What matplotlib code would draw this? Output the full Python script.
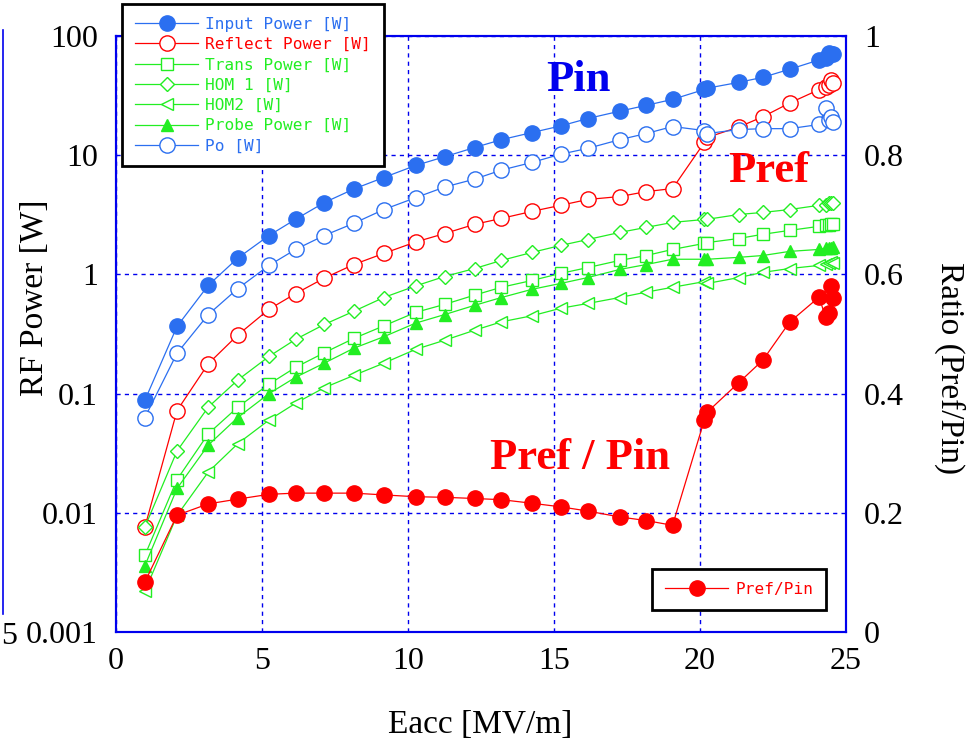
import matplotlib
matplotlib.use("Agg")
import matplotlib.pyplot as plt
from matplotlib.lines import Line2D
import numpy as np

# ---------------- data ----------------
eacc = [0.99, 2.09, 3.16, 4.17, 5.24, 6.15, 7.13, 8.14, 9.17, 10.26, 11.25, 12.28, 13.2, 14.25,
        15.23, 16.15, 17.25, 18.16, 19.06, 20.15, 20.25, 21.32, 22.15, 23.07, 24.08, 24.3,
        24.42, 24.5, 24.56]

input_power = [0.088, 0.366, 0.81, 1.37, 2.12, 2.9, 4.0, 5.2, 6.5, 8.2, 9.7, 11.6, 13.5, 15.5,
               17.6, 20.3, 23.4, 26.2, 29.4, 35.6, 36.5, 40.8, 45, 52.6, 63, 66, 72, 70, 71]
reflect_power = [0.0076, 0.072, 0.178, 0.31, 0.51, 0.69, 0.93, 1.21, 1.5, 1.87, 2.2, 2.63, 2.95,
                 3.38, 3.8, 4.25, 4.5, 4.95, 5.25, 12.8, 14.1, 17.2, 21, 27.4, 35.5, 37, 38.5,
                 42.5, 40]
trans_power = [0.0044, 0.019, 0.046, 0.077, 0.12, 0.166, 0.22, 0.29, 0.37, 0.48, 0.56, 0.67,
               0.78, 0.89, 1.02, 1.14, 1.31, 1.44, 1.62, 1.82, 1.85, 2.0, 2.17, 2.34, 2.53, 2.6,
               2.62, 2.65, 2.65]
hom1 = [0.0076, 0.033, 0.077, 0.13, 0.205, 0.285, 0.38, 0.49, 0.64, 0.8, 0.96, 1.12, 1.31, 1.53,
        1.75, 1.96, 2.25, 2.48, 2.73, 2.89, 2.9, 3.18, 3.31, 3.5, 3.8, 3.85, 3.95, 4.0, 3.95]
hom2 = [0.0022, 0.0095, 0.022, 0.038, 0.06, 0.083, 0.112, 0.142, 0.18, 0.235, 0.28, 0.34, 0.4,
        0.45, 0.52, 0.57, 0.64, 0.71, 0.78, 0.87, 0.84, 0.94, 1.04, 1.12, 1.19, 1.22, 1.25,
        1.27, 1.25]
probe_power = [0.0036, 0.016, 0.037, 0.063, 0.1, 0.137, 0.18, 0.24, 0.30, 0.39, 0.46, 0.55, 0.64,
               0.75, 0.84, 0.94, 1.1, 1.21, 1.34, 1.34, 1.34, 1.39, 1.44, 1.56, 1.62, 1.66, 1.68,
               1.66, 1.7]
po = [0.063, 0.218, 0.46, 0.76, 1.19, 1.62, 2.12, 2.68, 3.5, 4.4, 5.4, 6.3, 7.5, 8.7, 10.2, 11.4,
      13.5, 15.2, 17.4, 16.1, 15.2, 16.4, 16.7, 16.7, 18.1, 25, 19.6, 20.8, 19]
ratio = [0.084, 0.196, 0.215, 0.223, 0.231, 0.233, 0.233, 0.233, 0.23, 0.227, 0.226, 0.224,
         0.222, 0.216, 0.21, 0.203, 0.193, 0.187, 0.179, 0.356, 0.369, 0.418, 0.456, 0.52,
         0.562, 0.528, 0.535, 0.58, 0.56]

labels = ["Input Power [W]", "Reflect Power [W]", "Trans Power [W]", "HOM 1 [W]", "HOM2 [W]",
          "Probe Power [W]", "Po [W]"]
ratio_label = "Pref/Pin"
left_ticks = [0.001, 0.01, 0.1, 1, 10, 100]
left_ticklabels = ["0.001", "0.01", "0.1", "1", "10", "100"]
right_ticks = [0, 0.2, 0.4, 0.6, 0.8, 1]
right_ticklabels = ["0", "0.2", "0.4", "0.6", "0.8", "1"]
x_ticks = [0, 5, 10, 15, 20, 25]

# ---------------- style ----------------
BLUE = "#2b6ff0"
RED = "#ff0000"
GREEN = "#22ee22"
AXBLUE = "#0000ee"
serif = ["Liberation Serif", "DejaVu Serif"]
mono = {"family": "DejaVu Sans Mono", "size": 11.6}

fig = plt.figure(figsize=(9.67, 7.46), dpi=100)
ax = fig.add_axes([116 / 967, 1 - 632 / 746, 730 / 967, 596 / 746])

ms_big = 11
ms_small = 8
lw = 0.9

series = [
    (input_power, dict(color=BLUE, marker="o", ms=ms_big, mfc=BLUE, mec=BLUE)),
    (reflect_power, dict(color=RED, marker="o", ms=ms_big, mfc="white", mec=RED)),
    (trans_power, dict(color=GREEN, marker="s", ms=ms_small + 1, mfc="white", mec=GREEN)),
    (hom1, dict(color=GREEN, marker="D", ms=ms_small - 1, mfc="white", mec=GREEN)),
    (hom2, dict(color=GREEN, marker="<", ms=ms_small + 1, mfc="white", mec=GREEN)),
    (probe_power, dict(color=GREEN, marker="^", ms=ms_small + 1, mfc=GREEN, mec=GREEN)),
    (po, dict(color=BLUE, marker="o", ms=ms_big, mfc="white", mec=BLUE)),
]
handles = []
for vals, kw in series:
    h, = ax.plot(eacc, vals, lw=lw, mew=1.0, **kw)
    handles.append(h)

ax.set_yscale("log")
ax.set_xlim(0, 25)
ax.set_ylim(0.001, 100)
ax.set_xticks(x_ticks)
ax.set_xticklabels([str(t) for t in x_ticks])
ax.set_yticks(left_ticks)
ax.set_yticklabels(left_ticklabels)
ax.yaxis.set_minor_locator(matplotlib.ticker.NullLocator())
ax.grid(True, which="major", color=AXBLUE, ls=(0, (3, 3)), lw=1.0)
ax.tick_params(axis="y", which="both", direction="in", length=0, labelsize=23, pad=13)
ax.tick_params(axis="x", which="both", direction="in", length=0, labelsize=23, pad=11)
for lab in ax.get_xticklabels() + ax.get_yticklabels():
    lab.set_fontfamily(serif)
for sp in ax.spines.values():
    sp.set_color(AXBLUE)
    sp.set_linewidth(1.5)

ax.set_xlabel("Eacc [MV/m]", fontsize=24, family=serif, va="center")
ax.xaxis.set_label_coords(0.499, -0.156)
ax.set_ylabel("RF Power [W]", fontsize=24, family=serif, va="center")
ax.yaxis.set_label_coords(-0.111, 0.56)

ax2 = ax.twinx()
h2, = ax2.plot(eacc, ratio, color=RED, lw=lw, marker="o", ms=ms_big, mfc=RED, mec=RED)
ax2.set_ylim(0, 1)
ax2.set_yticks(right_ticks)
ax2.set_yticklabels(right_ticklabels)
ax2.tick_params(axis="y", direction="in", length=0, labelsize=23, pad=13)
for lab in ax2.get_yticklabels():
    lab.set_fontfamily(serif)
for sp in ax2.spines.values():
    sp.set_color(AXBLUE)
    sp.set_linewidth(1.5)
ax2.set_ylabel("Ratio (Pref/Pin)", fontsize=24, family=serif, rotation=270, va="center")
ax2.yaxis.set_label_coords(1.142, 0.443)

# annotations
ax2.text(0.633, 0.908, "Pin", transform=ax.transAxes, color=AXBLUE, fontsize=32,
         fontweight="bold", family=serif, ha="center", va="baseline")
ax2.text(0.894, 0.755, "Pref", transform=ax.transAxes, color=RED, fontsize=32,
         fontweight="bold", family=serif, ha="center", va="baseline")
ax2.text(0.636, 0.273, "Pref / Pin", transform=ax.transAxes, color=RED, fontsize=32,
         fontweight="bold", family=serif, ha="center", va="baseline")

# legends
text_colors = [BLUE, RED, GREEN, GREEN, GREEN, GREEN, BLUE]
leg1 = ax2.legend(handles, labels, loc="upper left", bbox_to_anchor=(0.008, 1.054),
                  borderaxespad=0, handlelength=3.95, handletextpad=0.43,
                  labelspacing=0.33, borderpad=0.8, fancybox=False, framealpha=1,
                  edgecolor="black", prop=mono)
leg1.get_frame().set_linewidth(2)
for t, c in zip(leg1.get_texts(), text_colors):
    t.set_color(c)
ax2.add_artist(leg1)
leg2 = ax2.legend([h2], [ratio_label], loc="lower left", bbox_to_anchor=(0.734, 0.037),
                  borderaxespad=0, handlelength=3.95, handletextpad=0.43, borderpad=0.8,
                  fancybox=False, framealpha=1, edgecolor="black", prop=mono)
leg2.get_frame().set_linewidth(2)
leg2.get_texts()[0].set_color(RED)

# cropped neighbouring-axis remnant at the far left
fig.add_artist(Line2D([2.5 / 967, 2.5 / 967], [1 - 30 / 746, 1 - 614 / 746], color=AXBLUE, lw=1.2))
fig.text(1 / 967, 1 - 637 / 746, "5", fontsize=23, family=serif, ha="left", va="center")

fig.savefig("out.png", dpi=100)
